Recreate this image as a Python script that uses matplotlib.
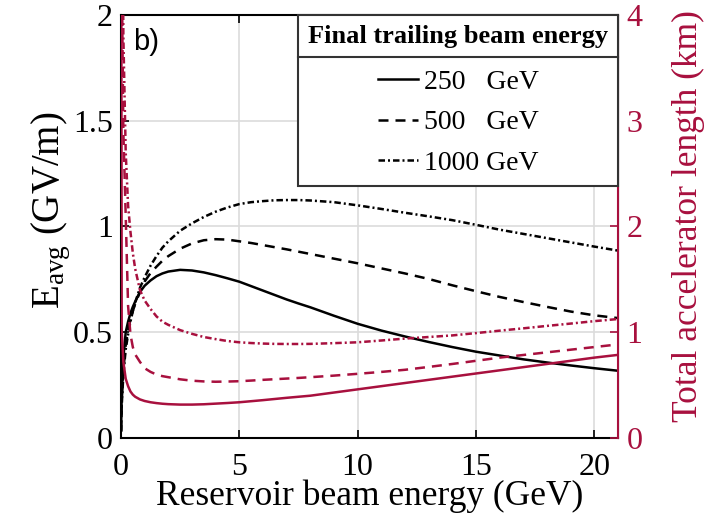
import matplotlib
matplotlib.use("Agg")
import matplotlib.pyplot as plt
from matplotlib.ticker import FormatStrFormatter
from matplotlib.lines import Line2D

plt.rcParams['font.family'] = ['Liberation Serif', 'DejaVu Serif']
plt.rcParams['mathtext.fontset'] = 'custom'
plt.rcParams['mathtext.rm'] = 'Liberation Serif'
plt.rcParams['mathtext.it'] = 'Liberation Serif:italic'

RED = '#A8103E'

# reservoir beam energy (GeV)
x = [0.005, 0.03, 0.1, 0.2, 0.3, 0.4, 0.5, 0.6, 0.8, 1, 1.25, 1.5, 1.75, 2, 2.5,
     3, 3.5, 4, 4.5, 5, 5.5, 6, 6.5, 7, 7.5, 8, 9, 10, 11, 12, 13, 14, 15, 16,
     17, 18, 19, 20, 21]

# average gradient (GV/m), left axis
e_250 = [0.04, 0.21, 0.38, 0.50, 0.55, 0.59, 0.62, 0.645, 0.69, 0.72, 0.745,
         0.765, 0.778, 0.787, 0.795, 0.792, 0.783, 0.77, 0.755, 0.739, 0.718,
         0.697, 0.676, 0.655, 0.636, 0.618, 0.578, 0.540, 0.508, 0.48, 0.454,
         0.43, 0.408, 0.39, 0.372, 0.357, 0.343, 0.33, 0.318]
e_500 = [0.03, 0.17, 0.32, 0.44, 0.51, 0.56, 0.60, 0.635, 0.69, 0.74, 0.78, 0.81,
         0.838, 0.86, 0.895, 0.92, 0.935, 0.94, 0.938, 0.93, 0.922, 0.912, 0.902,
         0.892, 0.881, 0.87, 0.848, 0.826, 0.802, 0.778, 0.752, 0.722, 0.694,
         0.667, 0.643, 0.62, 0.598, 0.58, 0.567]
e_1000 = [0.03, 0.15, 0.30, 0.42, 0.49, 0.55, 0.60, 0.64, 0.71, 0.76, 0.815, 0.86,
          0.90, 0.93, 0.98, 1.015, 1.045, 1.07, 1.09, 1.106, 1.115, 1.12, 1.124,
          1.125, 1.125, 1.123, 1.115, 1.10, 1.083, 1.065, 1.048, 1.03, 1.008,
          0.985, 0.965, 0.945, 0.925, 0.905, 0.886]

# total accelerator length (km), right axis
l_250 = [6.0, 1.02, 0.72, 0.56, 0.49, 0.44, 0.41, 0.39, 0.365, 0.35, 0.338, 0.33,
         0.324, 0.32, 0.316, 0.316, 0.319, 0.325, 0.331, 0.338, 0.348, 0.358,
         0.369, 0.38, 0.39, 0.40, 0.43, 0.46, 0.49, 0.52, 0.55, 0.58, 0.61, 0.64,
         0.67, 0.70, 0.73, 0.76, 0.786]
l_500 = [20.0, 4.5, 2.9, 2.1, 1.25, 0.98, 0.86, 0.79, 0.72, 0.66, 0.625, 0.60,
         0.585, 0.575, 0.555, 0.542, 0.535, 0.532, 0.534, 0.537, 0.543, 0.55,
         0.556, 0.562, 0.568, 0.575, 0.59, 0.607, 0.625, 0.645, 0.672, 0.70, 0.73,
         0.76, 0.785, 0.81, 0.835, 0.86, 0.885]
l_1000 = [30.0, 6.5, 3.8, 2.7, 2.2, 1.95, 1.75, 1.6, 1.4, 1.3, 1.22, 1.15, 1.1,
          1.07, 1.02, 0.985, 0.955, 0.935, 0.917, 0.905, 0.898, 0.893, 0.89,
          0.889, 0.889, 0.89, 0.897, 0.905, 0.922, 0.94, 0.955, 0.97, 0.992,
          1.015, 1.037, 1.06, 1.082, 1.105, 1.125]

labels = ['250   GeV', '500   GeV', '1000 GeV']
styles = ['-', (0, (4, 2.8)), (0, (2.6, 1.2, 0.8, 1.2))]

fig = plt.figure(figsize=(7.1, 5.17), dpi=100)
ax = fig.add_axes([0.1704, 0.1528, 0.7, 0.8182])
ax2 = ax.twinx()

for e, ls, lab in zip([e_250, e_500, e_1000], styles, labels):
    ax.plot(x, e, color='black', lw=1.8, linestyle=ls, label=lab)
for l, ls in zip([l_250, l_500, l_1000], styles):
    ax2.plot(x, l, color=RED, lw=1.8, linestyle=ls)

ax.set_xlim(0, 21)
ax.set_ylim(0, 2)
ax2.set_ylim(0, 4)
ax.set_xticks([0, 5, 10, 15, 20])
ax.set_yticks([0, 0.5, 1, 1.5, 2])
ax2.set_yticks([0, 1, 2, 3, 4])
ax.yaxis.set_major_formatter(FormatStrFormatter('%g'))
ax.grid(True, color='#dcdcdc', lw=1.2)
ax.set_axisbelow(True)

ax.tick_params(axis='both', direction='in', length=6, width=1.2, labelsize=23,
               top=True, pad=6)
ax.tick_params(axis='x', pad=11)
ax2.tick_params(axis='y', direction='in', length=6, width=1.2, labelsize=23,
                colors=RED, pad=6)
for s in ['left', 'bottom', 'top']:
    ax.spines[s].set_linewidth(1.5)
ax2.spines['right'].set_color(RED)
ax2.spines['right'].set_linewidth(1.5)
for s in ['left', 'bottom', 'top']:
    ax2.spines[s].set_visible(False)

ax.set_xlabel('Reservoir beam energy (GeV)', fontsize=25.5, labelpad=-2)
ax.set_ylabel(r'E$_{\rm avg}$ (GV/m)', fontsize=28)
ax.yaxis.set_label_coords(-0.097, 0.539)
ax2.set_ylabel('Total accelerator length (km)', fontsize=25.5, color=RED)
ax2.yaxis.set_label_coords(1.109, 0.525)

ax.text(0.025, 0.97, 'b)', transform=ax.transAxes, fontsize=21,
        family='Liberation Sans', va='top', ha='left')

leg = ax2.legend(*ax.get_legend_handles_labels(), loc='upper right',
                 borderaxespad=0, fancybox=False, edgecolor='#333333',
                 framealpha=1, fontsize=20, title='Final trailing beam energy',
                 title_fontproperties={'weight': 'bold', 'size': 19},
                 handlelength=1.45, handletextpad=0.2, labelspacing=0.55,
                 borderpad=0.35)
leg.get_frame().set_linewidth(1.5)
leg._legend_box.sep = 15.5

# separator under the legend title
fig.canvas.draw()
tb = leg.get_title().get_window_extent()
fb = leg.get_frame().get_window_extent()
inv = fig.transFigure.inverted()
(x0, y0), (x1, _) = inv.transform([(fb.x0, tb.y0 - 9), (fb.x1, tb.y0 - 9)])
fig.add_artist(Line2D([x0, x1], [y0, y0], transform=fig.transFigure,
                      color='#333333', lw=1.5, zorder=10))

fig.savefig('out.png', dpi=100)
